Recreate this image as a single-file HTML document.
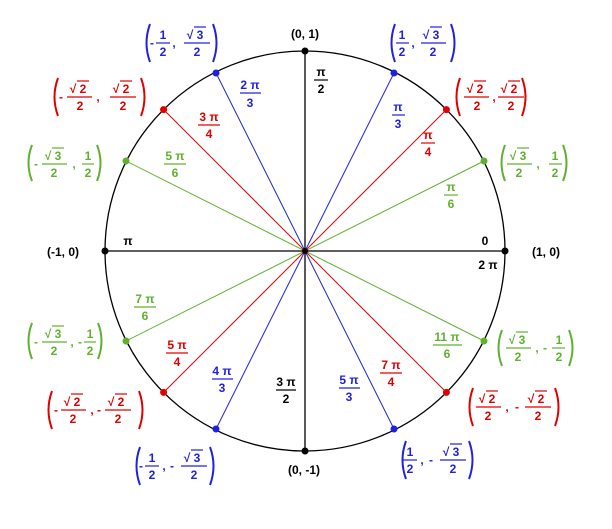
<!DOCTYPE html>
<html><head><meta charset="utf-8"><style>
html,body{margin:0;padding:0;background:#fff;}
svg{display:block;}
text{font-family:"Liberation Sans",sans-serif;font-weight:bold;font-size:12px;}
.b{fill:#2020e0;stroke:none}.r{fill:#e00000;stroke:none}.g{fill:#60b030;stroke:none}.k{fill:#000;stroke:none}
</style></head><body>
<svg width="612" height="529" viewBox="0 0 612 529" xmlns="http://www.w3.org/2000/svg">
<circle cx="305" cy="251" r="200" fill="none" stroke="#000" stroke-width="1.3"/>
<g stroke-width="1">
<line x1="484" y1="161" x2="126" y2="341" stroke="#60b030"/>
<line x1="126" y1="161" x2="484" y2="341" stroke="#60b030"/>
<line x1="446.4" y1="109.6" x2="163.6" y2="392.4" stroke="#e00000"/>
<line x1="163.6" y1="109.6" x2="446.4" y2="392.4" stroke="#e00000"/>
<line x1="394" y1="73" x2="216" y2="429" stroke="#2020e0"/>
<line x1="216" y1="73" x2="394" y2="429" stroke="#2020e0"/>
<line x1="305" y1="51" x2="305" y2="451" stroke="#000" stroke-width="1.3"/>
<line x1="105" y1="251" x2="505" y2="251" stroke="#000" stroke-width="1.3"/>
</g>
<g>
<circle cx="305" cy="51" r="3.5" fill="#000"/><circle cx="305" cy="451" r="3.5" fill="#000"/>
<circle cx="105" cy="251" r="3.5" fill="#000"/><circle cx="505" cy="251" r="3.5" fill="#000"/>
<circle cx="305" cy="251" r="3" fill="#000"/>
<circle cx="484" cy="161" r="3.5" fill="#60b030"/><circle cx="126" cy="161" r="3.5" fill="#60b030"/>
<circle cx="126" cy="341" r="3.5" fill="#60b030"/><circle cx="484" cy="341" r="3.5" fill="#60b030"/>
<circle cx="446.4" cy="109.6" r="3.5" fill="#e00000"/><circle cx="163.6" cy="109.6" r="3.5" fill="#e00000"/>
<circle cx="163.6" cy="392.4" r="3.5" fill="#e00000"/><circle cx="446.4" cy="392.4" r="3.5" fill="#e00000"/>
<circle cx="394" cy="73" r="3.5" fill="#2020e0"/><circle cx="216" cy="73" r="3.5" fill="#2020e0"/>
<circle cx="216" cy="429" r="3.5" fill="#2020e0"/><circle cx="394" cy="429" r="3.5" fill="#2020e0"/>
</g>
<g class="k" text-anchor="middle" font-size="11">
<text x="305" y="38" class="k">(0, 1)</text>
<text x="546" y="256" class="k">(1, 0)</text>
<text x="63" y="256" class="k">(-1, 0)</text>
<text x="304" y="474" class="k">(0, -1)</text>
<text x="128" y="245" class="k">π</text>
<text x="485" y="245" class="k">0</text>
<text x="488" y="269" class="k">2 π</text>
<text x="321" y="76" class="k">π</text><text x="321" y="93" class="k">2</text>
<text x="286" y="386" class="k">3 π</text><text x="286" y="403" class="k">2</text>
</g>
<g stroke="#000" stroke-width="1.2">
<line x1="314" y1="80" x2="328" y2="80"/><line x1="276" y1="390" x2="296" y2="390"/>
</g>
<g text-anchor="middle">
<text x="250" y="89" class="b">2 π</text><text x="250" y="107" class="b">3</text>
<text x="398" y="111" class="b">π</text><text x="398" y="128" class="b">3</text>
<text x="222" y="375" class="b">4 π</text><text x="222" y="392" class="b">3</text>
<text x="349" y="384" class="b">5 π</text><text x="349" y="401" class="b">3</text>
<text x="209" y="121" class="r">3 π</text><text x="209" y="138" class="r">4</text>
<text x="428" y="139" class="r">π</text><text x="428" y="156" class="r">4</text>
<text x="177" y="349" class="r">5 π</text><text x="177" y="366" class="r">4</text>
<text x="391" y="369" class="r">7 π</text><text x="391" y="386" class="r">4</text>
<text x="175" y="160" class="g">5 π</text><text x="175" y="177" class="g">6</text>
<text x="451" y="191" class="g">π</text><text x="451" y="208" class="g">6</text>
<text x="145" y="303" class="g">7 π</text><text x="145" y="320" class="g">6</text>
<text x="447" y="341" class="g">11 π</text><text x="447" y="358" class="g">6</text>
</g>
<g stroke-width="1.2">
<line x1="240" y1="93" x2="261" y2="93" stroke="#2020e0"/>
<line x1="392" y1="115" x2="405" y2="115" stroke="#2020e0"/>
<line x1="212" y1="379" x2="233" y2="379" stroke="#2020e0"/>
<line x1="339" y1="388" x2="360" y2="388" stroke="#2020e0"/>
<line x1="198" y1="125" x2="220" y2="125" stroke="#e00000"/>
<line x1="421" y1="143" x2="435" y2="143" stroke="#e00000"/>
<line x1="166" y1="353" x2="188" y2="353" stroke="#e00000"/>
<line x1="380" y1="373" x2="402" y2="373" stroke="#e00000"/>
<line x1="164" y1="164" x2="186" y2="164" stroke="#60b030"/>
<line x1="444" y1="195" x2="458" y2="195" stroke="#60b030"/>
<line x1="134" y1="307" x2="156" y2="307" stroke="#60b030"/>
<line x1="433" y1="345" x2="462" y2="345" stroke="#60b030"/>
</g>

<g fill="none" stroke="#2020e0" stroke-width="2">
<path d="M150,24 Q143,43 150,62"/><path d="M213,24 Q220,43 213,62"/>
<path d="M395,24 Q388,43 395,62"/><path d="M451,24 Q458,43 451,62"/>
<path d="M140,447 Q133,466 140,485"/><path d="M210,447 Q217,466 210,485"/>
<path d="M406,441 Q399,460 406,479"/><path d="M469,441 Q476,460 469,479"/>
</g>
<g stroke="#2020e0" stroke-width="1.2">
<line x1="156" y1="43" x2="170" y2="43"/><line x1="184" y1="43" x2="210" y2="43"/><line x1="194" y1="27" x2="206" y2="27"/>
<line x1="396" y1="43" x2="409" y2="43"/><line x1="421" y1="43" x2="446" y2="43"/><line x1="430" y1="27" x2="442" y2="27"/>
<line x1="145" y1="466" x2="159" y2="466"/><line x1="181" y1="466" x2="207" y2="466"/><line x1="191" y1="450" x2="203" y2="450"/>
<line x1="403" y1="460" x2="417" y2="460"/><line x1="440" y1="460" x2="466" y2="460"/><line x1="450" y1="444" x2="462" y2="444"/>
</g>
<g class="b" text-anchor="middle">
<text x="152" y="47" class="b">-</text><text x="163" y="39" class="b">1</text><text x="163" y="56" class="b">2</text><text x="174" y="47" class="b">,</text>
<text x="190" y="39" class="b">√</text><text x="200" y="39" class="b">3</text><text x="197" y="56" class="b">2</text>
<text x="402" y="39" class="b">1</text><text x="402" y="56" class="b">2</text><text x="413" y="47" class="b">,</text>
<text x="426" y="39" class="b">√</text><text x="436" y="39" class="b">3</text><text x="433" y="56" class="b">2</text>
<text x="141" y="470" class="b">-</text><text x="152" y="462" class="b">1</text><text x="152" y="479" class="b">2</text><text x="164" y="470" class="b">,</text><text x="172" y="470" class="b">-</text>
<text x="187" y="462" class="b">√</text><text x="197" y="462" class="b">3</text><text x="194" y="479" class="b">2</text>
<text x="410" y="456" class="b">1</text><text x="410" y="473" class="b">2</text><text x="422" y="464" class="b">,</text><text x="431" y="464" class="b">-</text>
<text x="446" y="456" class="b">√</text><text x="456" y="456" class="b">3</text><text x="453" y="473" class="b">2</text>
</g>

<g fill="none" stroke="#e00000" stroke-width="2">
<path d="M58,78 Q51,97 58,116"/><path d="M141,78 Q148,97 141,116"/>
<path d="M460,78 Q453,97 460,116"/><path d="M522,78 Q529,97 522,116"/>
<path d="M52,391 Q45,410 52,429"/><path d="M139,391 Q146,410 139,429"/>
<path d="M473,388 Q466,407 473,426"/><path d="M555,388 Q562,407 555,426"/>
</g>
<g stroke="#e00000" stroke-width="1.2">
<line x1="67" y1="97" x2="92" y2="97"/><line x1="77" y1="81" x2="89" y2="81"/>
<line x1="110" y1="97" x2="136" y2="97"/><line x1="120" y1="81" x2="132" y2="81"/>
<line x1="464" y1="97" x2="489" y2="97"/><line x1="474" y1="81" x2="486" y2="81"/>
<line x1="498" y1="97" x2="524" y2="97"/><line x1="508" y1="81" x2="520" y2="81"/>
<line x1="61" y1="410" x2="86" y2="410"/><line x1="71" y1="394" x2="83" y2="394"/>
<line x1="105" y1="410" x2="131" y2="410"/><line x1="115" y1="394" x2="127" y2="394"/>
<line x1="476" y1="407" x2="501" y2="407"/><line x1="486" y1="391" x2="498" y2="391"/>
<line x1="525" y1="407" x2="551" y2="407"/><line x1="535" y1="391" x2="547" y2="391"/>
</g>
<g text-anchor="middle">
<text x="61" y="101" class="r">-</text>
<text x="73" y="93" class="r">√</text><text x="83" y="93" class="r">2</text><text x="80" y="110" class="r">2</text><text x="98" y="101" class="r">,</text>
<text x="116" y="93" class="r">√</text><text x="126" y="93" class="r">2</text><text x="123" y="110" class="r">2</text>
<text x="470" y="93" class="r">√</text><text x="480" y="93" class="r">2</text><text x="477" y="110" class="r">2</text><text x="494" y="101" class="r">,</text>
<text x="504" y="93" class="r">√</text><text x="514" y="93" class="r">2</text><text x="511" y="110" class="r">2</text>
<text x="56" y="414" class="r">-</text>
<text x="67" y="406" class="r">√</text><text x="77" y="406" class="r">2</text><text x="73" y="423" class="r">2</text><text x="92" y="414" class="r">,</text><text x="99" y="414" class="r">-</text>
<text x="111" y="406" class="r">√</text><text x="121" y="406" class="r">2</text><text x="118" y="423" class="r">2</text>
<text x="482" y="403" class="r">√</text><text x="492" y="403" class="r">2</text><text x="488" y="420" class="r">2</text><text x="507" y="411" class="r">,</text><text x="517" y="411" class="r">-</text>
<text x="531" y="403" class="r">√</text><text x="541" y="403" class="r">2</text><text x="538" y="420" class="r">2</text>
</g>

<g fill="none" stroke="#60b030" stroke-width="2">
<path d="M32,145 Q25,163 32,181"/><path d="M97,145 Q104,163 97,181"/>
<path d="M505,145 Q498,163 505,181"/><path d="M563,145 Q570,163 563,181"/>
<path d="M32,323 Q25,341 32,359"/><path d="M98,323 Q105,341 98,359"/>
<path d="M502,330 Q495,348 502,366"/><path d="M569,330 Q576,348 569,366"/>
</g>
<g stroke="#60b030" stroke-width="1.2">
<line x1="42" y1="164" x2="67" y2="164"/><line x1="52" y1="148" x2="64" y2="148"/><line x1="82" y1="164" x2="94" y2="164"/>
<line x1="507" y1="164" x2="532" y2="164"/><line x1="517" y1="148" x2="529" y2="148"/><line x1="549" y1="164" x2="562" y2="164"/>
<line x1="42" y1="342" x2="67" y2="342"/><line x1="52" y1="326" x2="64" y2="326"/><line x1="84" y1="342" x2="96" y2="342"/>
<line x1="506" y1="348" x2="531" y2="348"/><line x1="516" y1="332" x2="528" y2="332"/><line x1="552" y1="348" x2="565" y2="348"/>
</g>
<g text-anchor="middle">
<text x="36" y="168" class="g">-</text>
<text x="48" y="160" class="g">√</text><text x="58" y="160" class="g">3</text><text x="54" y="177" class="g">2</text><text x="74" y="168" class="g">,</text>
<text x="88" y="160" class="g">1</text><text x="88" y="177" class="g">2</text>
<text x="513" y="160" class="g">√</text><text x="523" y="160" class="g">3</text><text x="519" y="177" class="g">2</text><text x="538" y="168" class="g">,</text>
<text x="555" y="160" class="g">1</text><text x="555" y="177" class="g">2</text>
<text x="36" y="346" class="g">-</text>
<text x="48" y="338" class="g">√</text><text x="58" y="338" class="g">3</text><text x="54" y="355" class="g">2</text><text x="72" y="346" class="g">,</text><text x="80" y="346" class="g">-</text>
<text x="90" y="338" class="g">1</text><text x="90" y="355" class="g">2</text>
<text x="512" y="344" class="g">√</text><text x="522" y="344" class="g">3</text><text x="518" y="361" class="g">2</text><text x="537" y="352" class="g">,</text><text x="545" y="352" class="g">-</text>
<text x="559" y="344" class="g">1</text><text x="559" y="361" class="g">2</text>
</g>
</svg>
</body></html>
